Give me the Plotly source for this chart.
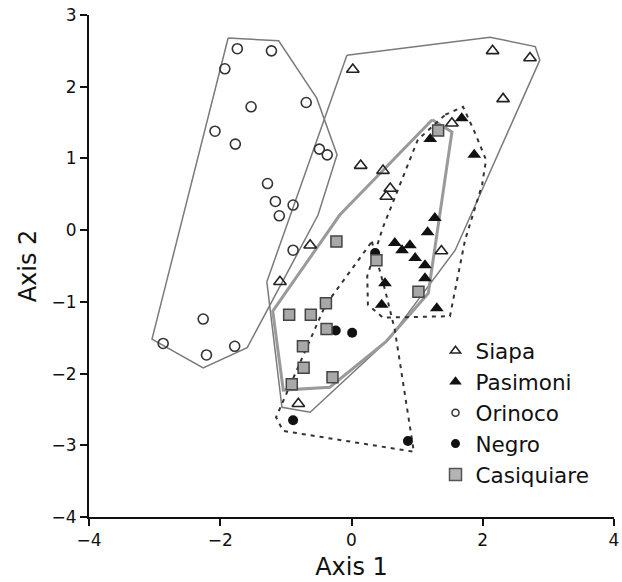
import plotly.graph_objects as go

# ---- data ----
siapa_x = [0.02, 2.15, 2.72, 2.31, 1.53, 0.14, 0.48, 0.59, 0.53, 1.37, -0.63, -1.09, -0.81]
siapa_y = [2.24, 2.50, 2.40, 1.83, 1.49, 0.90, 0.83, 0.58, 0.47, -0.29, -0.21, -0.72, -2.42]

pasimoni_x = [1.68, 1.20, 1.87, 1.27, 1.16, 0.66, 0.77, 0.89, 0.97, 1.12, 1.12, 0.51, 0.46, 1.30]
pasimoni_y = [1.56, 1.27, 1.05, 0.17, -0.03, -0.18, -0.28, -0.21, -0.39, -0.49, -0.67, -0.74, -1.04, -1.09]

orinoco_x = [-1.74, -1.22, -1.93, -1.53, -0.69, -2.08, -1.77, -0.49, -0.37, -1.28, -1.16, -1.10, -0.89,
             -0.89, -2.26, -2.87, -2.21, -1.78]
orinoco_y = [2.53, 2.50, 2.25, 1.72, 1.78, 1.38, 1.20, 1.13, 1.05, 0.65, 0.40, 0.20, 0.35,
             -0.28, -1.24, -1.58, -1.74, -1.62]

negro_x = [0.36, -0.24, 0.01, -0.89, 0.86]
negro_y = [-0.32, -1.40, -1.43, -2.65, -2.94]

casiquiare_x = [1.32, -0.23, 0.38, 1.02, -0.39, -0.95, -0.62, -0.38, -0.74, -0.73, -0.91, -0.29]
casiquiare_y = [1.39, -0.16, -0.42, -0.86, -1.02, -1.18, -1.18, -1.38, -1.62, -1.92, -2.15, -2.05]

# hull outlines (data units)
hull_orinoco_x = [-1.88, -1.11, -0.53, -0.22, -0.51, -1.59, -2.26, -3.04, -1.88]
hull_orinoco_y = [2.68, 2.64, 1.84, 1.05, 0.21, -1.64, -1.92, -1.52, 2.68]

hull_siapa_x = [-0.07, 2.11, 2.80, 2.87, 1.58, 0.56, -0.63, -1.06, -1.29, -0.07]
hull_siapa_y = [2.44, 2.69, 2.56, 2.37, -0.28, -1.53, -2.54, -2.47, -0.72, 2.44]

hull_casiquiare_x = [1.23, 1.53, 1.17, 0.53, -0.33, -1.04, -1.20, -0.18, 1.23]
hull_casiquiare_y = [1.54, 1.37, -0.88, -1.55, -2.19, -2.23, -1.13, 0.21, 1.54]

hull_pasimoni_x = [1.43, 1.70, 1.88, 2.05, 1.99, 1.73, 1.50, 0.48, 0.25, 0.24, 0.48, 1.01, 1.43]
hull_pasimoni_y = [1.61, 1.72, 1.36, 0.98, 0.63, -0.14, -1.20, -1.22, -1.04, -0.64, 0.04, 1.26, 1.61]

hull_negro_x = [0.31, 0.51, 0.66, 0.95, -1.04, -1.15, -0.40, 0.31]
hull_negro_y = [-0.16, -0.83, -1.39, -3.09, -2.80, -2.61, -1.05, -0.16]

axis_ticks = [-4, -2, 0, 2, 4]
yaxis_ticks = [-4, -3, -2, -1, 0, 1, 2, 3]

FONT = "DejaVu Sans"

fig = go.Figure()

def hull(x, y, color, width, dash=None):
    fig.add_trace(go.Scatter(x=x, y=y, mode="lines", showlegend=False, hoverinfo="skip",
                             line=dict(color=color, width=width, dash=dash)))

hull(hull_orinoco_x, hull_orinoco_y, "#7a7a7a", 1.5)
hull(hull_siapa_x, hull_siapa_y, "#7a7a7a", 1.5)
hull(hull_casiquiare_x, hull_casiquiare_y, "#9a9a9a", 3)
hull(hull_pasimoni_x, hull_pasimoni_y, "#333333", 2, "4px,5px")
hull(hull_negro_x, hull_negro_y, "#333333", 2, "4px,5px")

series = [
    ("Siapa", siapa_x, siapa_y,
     dict(symbol="triangle-up-open", size=11, color="#222222", line=dict(width=1.6, color="#222222")),
     dict(symbol="triangle-up-open", size=9, color="#222222", line=dict(width=1.5, color="#222222"))),
    ("Pasimoni", pasimoni_x, pasimoni_y,
     dict(symbol="triangle-up", size=12, color="#111111"),
     dict(symbol="triangle-up", size=11, color="#111111")),
    ("Orinoco", orinoco_x, orinoco_y,
     dict(symbol="circle-open", size=10, color="#333333", line=dict(width=1.6, color="#333333")),
     dict(symbol="circle-open", size=7, color="#333333", line=dict(width=1.5, color="#333333"))),
    ("Negro", negro_x, negro_y,
     dict(symbol="circle", size=10, color="#111111"),
     dict(symbol="circle", size=9, color="#111111")),
    ("Casiquiare", casiquiare_x, casiquiare_y,
     dict(symbol="square", size=11, color="#a8a8a8", line=dict(width=1.5, color="#444444")),
     dict(symbol="square", size=12, color="#b4b4b4", line=dict(width=1.5, color="#555555"))),
]

for name, xs, ys, mk, lmk in series:
    fig.add_trace(go.Scatter(x=xs, y=ys, mode="markers", name=name, legendgroup=name,
                             showlegend=False, marker=mk))
    # legend entry (smaller symbol, as in the reference key)
    fig.add_trace(go.Scatter(x=[None], y=[None], mode="markers", name=name, legendgroup=name,
                             showlegend=True, marker=lmk))

fig.update_layout(
    width=622, height=582,
    margin=dict(l=89, r=8, t=15, b=65),
    paper_bgcolor="white", plot_bgcolor="white",
    font=dict(family=FONT, size=17, color="#111111"),
    legend=dict(x=0.66, y=0.372, xanchor="left", yanchor="top",
                font=dict(family=FONT, size=21.5, color="#111111"),
                bgcolor="rgba(0,0,0,0)", tracegroupgap=0, itemwidth=30),
    xaxis=dict(range=[-4, 4], tickvals=axis_ticks, showgrid=False, zeroline=False,
               showline=True, linecolor="#111111", linewidth=2, ticks="outside",
               ticklen=7, tickwidth=2, tickcolor="#111111", automargin=False,
               ticklabeloverflow="allow",
               title=dict(text="Axis 1", font=dict(family=FONT, size=24), standoff=9)),
    yaxis=dict(range=[-4, 3], tickvals=yaxis_ticks, showgrid=False, zeroline=False,
               showline=True, linecolor="#111111", linewidth=2, ticks="outside",
               ticklen=7, tickwidth=2, tickcolor="#111111", automargin=False,
               ticklabeloverflow="allow",
               title=dict(text="Axis 2", font=dict(family=FONT, size=24), standoff=8)),
)

# remove the browser's default 8px page margin so the 622x582 figure fills the window
fig.write_html("out.html",
               config={"displayModeBar": False},
               post_script="document.body.style.margin='0';document.body.style.overflow='hidden';")
